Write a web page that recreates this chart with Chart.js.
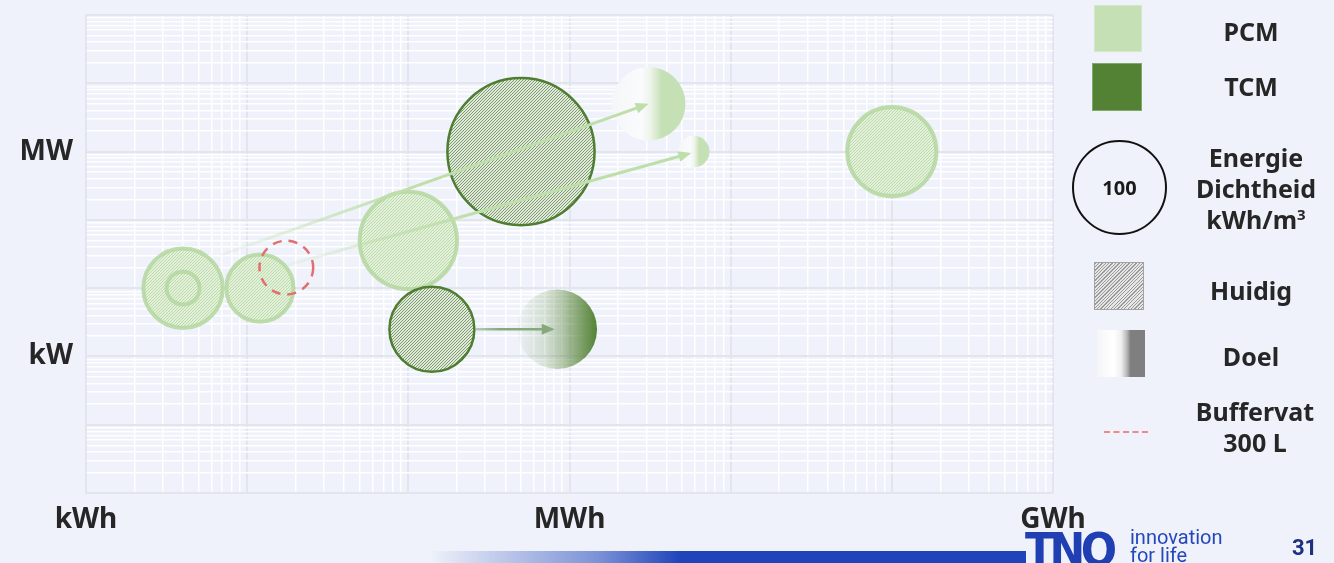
<!DOCTYPE html>
<html>
<head>
<meta charset="utf-8">
<title>Thermische opslag: PCM en TCM</title>
<script src="https://cdn.jsdelivr.net/npm/chart.js@4.4.1/dist/chart.umd.min.js"></script>
<style>
  html, body { margin: 0; padding: 0; background: #eff2fa; }
  #wrap { position: relative; width: 1334px; height: 563px; overflow: hidden; background: #eff2fa;
          font-family: "Noto Sans", "Open Sans", sans-serif; color: #262626; }
  #chart { position: absolute; left: 0; top: 0; }
  .lbl { position: absolute; font-weight: 700; font-size: 25px; line-height: 1; white-space: nowrap;
         transform: translate(-50%, -50%); text-align: center; }
  .multi { line-height: 31px; }
  .sw { position: absolute; box-sizing: border-box; }
  #pcmSw { left: 1094px; top: 5px; width: 48px; height: 47px; background: #c5e0b4; border: 1px solid #d3e8c6; }
  #tcmSw { left: 1092px; top: 63px; width: 50px; height: 48px; background: #548235; border: 1px solid #7fa86a; }
  #densSw { left: 1072px; top: 140px; width: 95px; height: 95px; border: 2.5px solid #111; border-radius: 50%;
            display: flex; align-items: center; justify-content: center; font-weight: 700; font-size: 20px; color: #1a1a1a; }
  #nowSw { left: 1094px; top: 262px; width: 50px; height: 48px; border: 1.5px solid #a3a3a3;
           background: repeating-linear-gradient(135deg, #9a9a9a 0 0.9px, #e6e6e6 0.9px 2.4px); }
  #goalSw { left: 1097px; top: 330px; width: 48px; height: 47px;
            background: linear-gradient(to right, #f4f5f8 0%, #ffffff 35%, #f0f0f0 50%, #b9b9b9 62%, #7f7f7f 70%, #7f7f7f 100%); }
  #bufSw { left: 1104px; top: 431px; width: 44px; height: 0; border-top: 2.5px dashed #ee8a8a; }
  #bar { position: absolute; left: 430px; top: 551px; width: 596px; height: 12px;
         background: linear-gradient(to right, rgba(31,68,186,0) 0%, rgba(31,68,186,0.55) 28%, #1f44ba 42%, #1f44ba 100%); }
  #tno { position: absolute; left: 1025px; top: 527px; font-family: "DejaVu Sans", sans-serif; font-weight: 700;
         font-size: 46px; line-height: 1; letter-spacing: -5px; color: #1f3fb3; transform: scaleX(0.93); transform-origin: left top; }
  #slogan { position: absolute; left: 1130px; top: 528px; font-family: "Liberation Sans Narrow", "Roboto", sans-serif;
            font-size: 20px; line-height: 18px; color: #2447bd; }
  #page { position: absolute; left: 1292px; top: 537px; font-family: "Liberation Sans Narrow", "Roboto", sans-serif;
          font-weight: 700; font-size: 22px; line-height: 1; color: #1f3080; }
</style>
</head>
<body>
<div id="wrap">
  <canvas id="chart" width="1334" height="563"></canvas>

  <div class="sw" id="pcmSw"></div>
  <div class="lbl" style="left:1251px; top:31px;">PCM</div>
  <div class="sw" id="tcmSw"></div>
  <div class="lbl" style="left:1251px; top:86px;">TCM</div>
  <div class="sw" id="densSw"><span id="densVal"></span></div>
  <div class="lbl multi" style="left:1256px; top:188px;">Energie<br>Dichtheid<br>kWh/m<sup style="font-size:15px; vertical-align:9px; line-height:0;">3</sup></div>
  <div class="sw" id="nowSw"></div>
  <div class="lbl" style="left:1251px; top:290px;">Huidig</div>
  <div class="sw" id="goalSw"></div>
  <div class="lbl" style="left:1251px; top:356px;">Doel</div>
  <div class="sw" id="bufSw"></div>
  <div class="lbl multi" style="left:1255px; top:427px;">Buffervat<br>300 L</div>

  <div id="bar"></div>
  <div id="tno">TNO</div>
  <div id="slogan">innovation<br>for life</div>
  <div id="page">31</div>
</div>

<script>
// Energy on x (kWh), power on y (kW), bubble area by energy density (kWh/m3)
const pcmNowEnergy   = [4, 4, 12, 100, 100000];
const pcmNowPower    = [10, 10, 10, 50, 1000];
const pcmNowDensity  = [70, 12, 50, 105, 88];

const tcmNowEnergy   = [500, 140];
const tcmNowPower    = [1000, 2.5];
const tcmNowDensity  = [240, 80];

const pcmGoalEnergy  = [3100, 5900];
const pcmGoalPower   = [5000, 1000];
const pcmGoalDensity = [60, 11];

const tcmGoalEnergy  = [840];
const tcmGoalPower   = [2.5];
const tcmGoalDensity = [70];

const bufferEnergy   = [17.5];
const bufferPower    = [20];
const bufferDensity  = [32];

// Development paths: start -> target (kWh, kW)
const pathFromEnergy = [7, 18, 265];
const pathFromPower  = [31, 22, 2.5];
const pathToEnergy   = [3100, 5700, 810];
const pathToPower    = [5000, 950, 2.5];
const pathKind       = ['PCM', 'PCM', 'TCM'];

// Axis labels
const xLabelValues = [1, 1e3, 1e6];
const xLabelTexts  = ['kWh', 'MWh', 'GWh'];
const yLabelValues = [1, 1e3];
const yLabelTexts  = ['kW', 'MW'];

const densityLegendValue = 100;
document.getElementById('densVal').textContent = densityLegendValue;

const R_LEGEND = 47.5; // radius of the reference circle in the legend
const radiusFor = d => R_LEGEND * Math.sqrt(d / densityLegendValue);

const toPoints = (xs, ys, ds) => xs.map((x, i) => ({ x, y: ys[i], r: radiusFor(ds[i]) }));

// log grid positions: 1..9 x 10^e
function logGrid(eMin, eMax) {
  const out = [];
  for (let e = eMin; e < eMax; e++)
    for (let m = 1; m <= 9; m++) out.push(Number((m * Math.pow(10, e)).toPrecision(3)));
  out.push(Math.pow(10, eMax));
  return out;
}
const isDecade = v => Math.abs(Math.log10(v) - Math.round(Math.log10(v))) < 1e-9;
const labelFor = (vals, texts) => v => {
  const i = vals.findIndex(t => Math.abs(Math.log10(t) - Math.log10(v)) < 1e-9);
  return i >= 0 ? texts[i] : '';
};

function hatch(bg, line, size, width) {
  const c = document.createElement('canvas');
  c.width = c.height = size;
  const g = c.getContext('2d');
  g.fillStyle = bg; g.fillRect(0, 0, size, size);
  g.strokeStyle = line; g.lineWidth = width;
  g.beginPath();
  g.moveTo(-1, size + 1); g.lineTo(size + 1, -1);
  g.moveTo(-1, 1); g.lineTo(1, -1);
  g.moveTo(size - 1, size + 1); g.lineTo(size + 1, size - 1);
  g.stroke();
  return g.createPattern(c, 'repeat');
}

const PCM = '#c5e0b4';
const TCM = '#548235';
const pcmHatch = hatch('#e3f0dc', '#bcdba9', 3, 1);
const tcmHatch = hatch('#e2e7df', '#7a9e66', 3, 1);

function goalFill(stops, fallback) {
  return ctx => {
    const raw = ctx.raw;
    const chart = ctx.chart;
    if (!raw || !chart.scales.x) return fallback;
    const cx = chart.scales.x.getPixelForValue(raw.x);
    if (!isFinite(cx)) return fallback;
    const g = chart.ctx.createLinearGradient(cx - raw.r, 0, cx + raw.r, 0);
    stops.forEach(s => g.addColorStop(s[0], s[1]));
    return g;
  };
}

const datasets = [
  { label: 'Buffervat 300 L', data: toPoints(bufferEnergy, bufferPower, bufferDensity),
    backgroundColor: 'rgba(0,0,0,0)', borderColor: '#e07070', borderWidth: 2.5, order: 1, dashed: true },
  { label: 'TCM doel', data: toPoints(tcmGoalEnergy, tcmGoalPower, tcmGoalDensity),
    backgroundColor: goalFill([[0, 'rgba(84,130,53,0.03)'], [0.35, 'rgba(84,130,53,0.18)'], [0.6, 'rgba(84,130,53,0.45)'], [0.85, 'rgba(84,130,53,0.8)'], [1, 'rgba(84,130,53,1)']], TCM),
    borderWidth: 0, order: 2 },
  { label: 'PCM doel', data: toPoints(pcmGoalEnergy, pcmGoalPower, pcmGoalDensity),
    backgroundColor: goalFill([[0, 'rgba(245,246,248,0.9)'], [0.4, 'rgba(250,251,252,1)'], [0.52, '#eef4ea'], [0.68, PCM], [1, PCM]], PCM),
    borderWidth: 0, order: 3 },
  { label: 'TCM huidig', data: toPoints(tcmNowEnergy, tcmNowPower, tcmNowDensity),
    backgroundColor: tcmHatch, borderColor: '#4f7d32', borderWidth: 2.5, order: 4 },
  { label: 'PCM huidig', data: toPoints(pcmNowEnergy, pcmNowPower, pcmNowDensity),
    backgroundColor: pcmHatch, borderColor: 'rgba(180,215,160,0.85)', borderWidth: 4, order: 5 }
];

const dashPlugin = {
  id: 'dashedBubbles',
  beforeDatasetDraw(chart, args) {
    const ds = chart.data.datasets[args.index];
    chart.ctx.save();
    if (ds.dashed) chart.ctx.setLineDash([9, 7]);
  },
  afterDatasetDraw(chart) { chart.ctx.restore(); }
};

const pathPlugin = {
  id: 'paths',
  afterDatasetsDraw(chart) {
    const { ctx, scales: { x, y } } = chart;
    ctx.save();
    pathFromEnergy.forEach((_, i) => {
      const x0 = x.getPixelForValue(pathFromEnergy[i]), y0 = y.getPixelForValue(pathFromPower[i]);
      const x1 = x.getPixelForValue(pathToEnergy[i]), y1 = y.getPixelForValue(pathToPower[i]);
      const pcm = pathKind[i] === 'PCM';
      const rgb = pcm ? '190,222,170' : '135,168,124';
      const g = ctx.createLinearGradient(x0, y0, x1, y1);
      g.addColorStop(0, `rgba(${rgb},${pcm ? 0.1 : 0.55})`);
      g.addColorStop(pcm ? 0.45 : 0.3, `rgba(${rgb},1)`);
      g.addColorStop(1, `rgba(${rgb},1)`);
      const ang = Math.atan2(y1 - y0, x1 - x0);
      const headLen = 13, headW = 5.5;
      const bx = x1 - Math.cos(ang) * headLen, by = y1 - Math.sin(ang) * headLen;
      ctx.strokeStyle = g;
      ctx.lineWidth = pcm ? 3 : 2.5;
      ctx.lineCap = 'round';
      ctx.beginPath(); ctx.moveTo(x0, y0); ctx.lineTo(bx, by); ctx.stroke();
      ctx.fillStyle = `rgb(${rgb})`;
      ctx.beginPath();
      ctx.moveTo(x1, y1);
      ctx.lineTo(bx + Math.sin(ang) * headW, by - Math.cos(ang) * headW);
      ctx.lineTo(bx - Math.sin(ang) * headW, by + Math.cos(ang) * headW);
      ctx.closePath(); ctx.fill();
    });
    ctx.restore();
  }
};

const axisFont = { family: '"Noto Sans", sans-serif', size: 28, weight: 'bold' };
const gridStyle = {
  drawTicks: false,
  color: c => (c.tick && isDecade(c.tick.value)) ? '#e2e5ee' : 'rgba(255,255,255,0.95)',
  lineWidth: c => (c.tick && isDecade(c.tick.value)) ? 2 : 1.5
};

new Chart(document.getElementById('chart'), {
  type: 'bubble',
  data: { datasets },
  plugins: [dashPlugin, pathPlugin],
  options: {
    responsive: false,
    animation: false,
    events: [],
    layout: { autoPadding: false, padding: { top: 15, right: 281, left: 0, bottom: 0 } },
    plugins: { legend: { display: false }, tooltip: { enabled: false } },
    scales: {
      x: {
        type: 'logarithmic', min: 1, max: 1e6,
        grid: gridStyle,
        border: { display: true, color: '#e2e5ee', width: 1.5 },
        afterBuildTicks: s => { s.ticks = logGrid(0, 6).map(v => ({ value: v })); },
        afterFit: s => { s.height = 70; },
        ticks: { autoSkip: false, maxRotation: 0, padding: 10, color: '#262626', font: axisFont,
                 callback: labelFor(xLabelValues, xLabelTexts) }
      },
      y: {
        type: 'logarithmic', min: 0.01, max: 1e5,
        grid: gridStyle,
        border: { display: true, color: '#e2e5ee', width: 1.5 },
        afterBuildTicks: s => { s.ticks = logGrid(-2, 5).map(v => ({ value: v })); },
        afterFit: s => { s.width = 86; s.paddingTop = 0; s.paddingBottom = 0; },
        ticks: { autoSkip: false, padding: 13, color: '#262626', font: axisFont,
                 callback: labelFor(yLabelValues, yLabelTexts) }
      }
    }
  }
});
</script>
</body>
</html>
